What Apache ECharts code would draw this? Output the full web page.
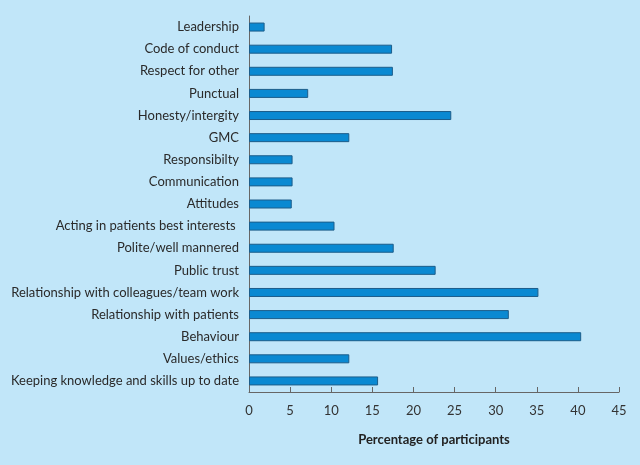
<!DOCTYPE html>
<html><head><meta charset="utf-8">
<script src="https://cdn.jsdelivr.net/npm/echarts@6/dist/echarts.min.js"></script>
<style>html,body{margin:0;padding:0;background:#c1e6f9;}#c{width:640px;height:465px;}</style>
</head><body><div id="c"></div>
<script>
const categories = ["Leadership","Code of conduct","Respect for other","Punctual","Honesty/intergity","GMC","Responsibilty","Communication","Attitudes","Acting in patients best interests ","Polite/well mannered","Public trust","Relationship with colleagues/team work","Relationship with patients","Behaviour","Values/ethics","Keeping knowledge and skills up to date"];
const values = [1.9,17.4,17.5,7.2,24.6,12.2,5.3,5.3,5.2,10.4,17.6,22.7,35.2,31.6,40.4,12.2,15.7];
const xTicks = [0,5,10,15,20,25,30,35,40,45];
const font = "Lato, 'Open Sans', sans-serif";
const chart = echarts.init(document.getElementById('c'));
chart.setOption({
  backgroundColor: '#c1e6f9',
  animation: false,
  grid: {left: 249, right: 21, top: 16, bottom: 73},
  xAxis: {
    type: 'value', min: xTicks[0], max: xTicks[xTicks.length-1], interval: 5,
    name: 'Percentage of participants', nameLocation: 'middle', nameGap: 41,
    nameTextStyle: {fontFamily: font, fontSize: 13, fontWeight: 'bold', color: '#222'},
    axisLine: {show: true, lineStyle: {color: '#666', width: 1}},
    axisTick: {show: true, inside: true, length: 5, lineStyle: {color: '#666'}},
    axisLabel: {fontFamily: font, fontSize: 13, color: '#333', margin: 12},
    splitLine: {show: false}
  },
  yAxis: {
    type: 'category', data: categories, inverse: true,
    axisLine: {show: true, lineStyle: {color: '#666', width: 1}},
    axisTick: {show: false},
    axisLabel: {fontFamily: font, fontSize: 13, color: '#2a2a2a', margin: 10}
  },
  series: [{
    type: 'bar', data: values, barWidth: 9,
    itemStyle: {color: '#0a89d2', borderColor: '#1c5d8a', borderWidth: 1}
  }]
});
</script></body></html>
